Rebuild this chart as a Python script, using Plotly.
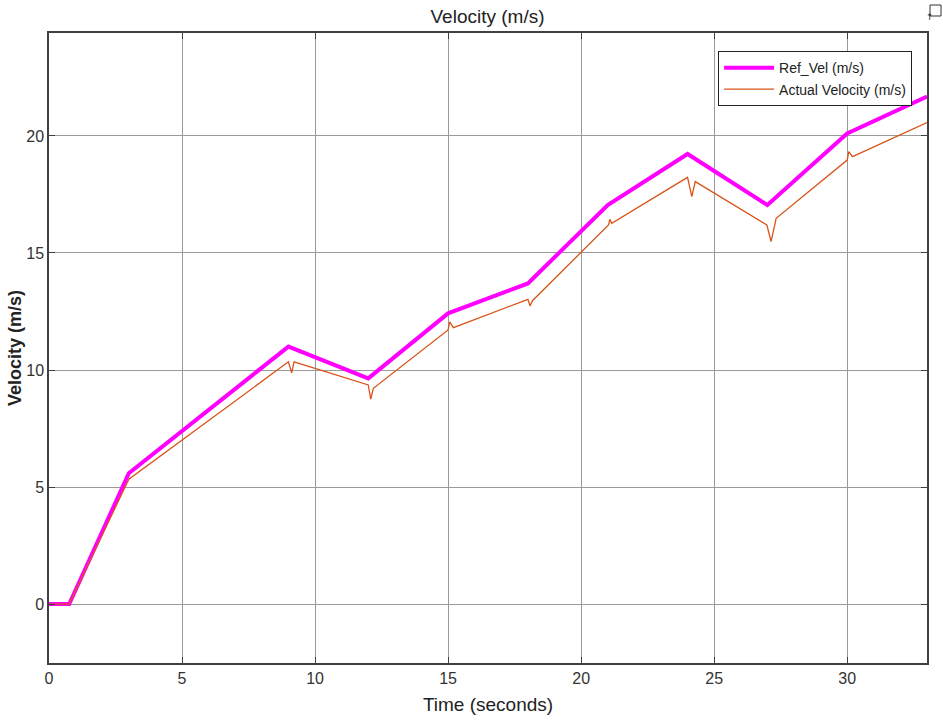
import plotly.graph_objects as go

# Reference velocity profile (piecewise linear set-points)
ref_time = [0, 0.76, 3.0, 9.0, 12.0, 15.0, 18.0, 21.0, 24.0, 27.0, 30.0, 33.0]
ref_vel = [0, 0, 5.59, 11.0, 9.64, 12.42, 13.70, 17.05, 19.23, 17.05, 20.11, 21.68]

# Measured vehicle velocity, with the transients at each set-point change
act_time = [0, 0.76, 3.0, 9.0, 9.12, 9.21, 12.0, 12.09, 12.19, 15.0, 15.06, 15.2,
            18.0, 18.08, 18.17, 21.03, 21.08, 21.15, 24.0, 24.16, 24.29,
            26.98, 27.14, 27.33, 30.0, 30.06, 30.2, 33.0]
act_vel = [0, 0, 5.33, 10.35, 9.88, 10.35, 9.36, 8.75, 9.22, 11.71, 12.06, 11.81,
           13.02, 12.74, 12.96, 16.2, 16.44, 16.27, 18.23, 17.41, 18.05,
           16.2, 15.49, 16.48, 18.97, 19.33, 19.12, 20.57]

x_ticks = [0, 5, 10, 15, 20, 25, 30]
y_ticks = [0, 5, 10, 15, 20]

FONT = "Liberation Sans, Arial, sans-serif"

fig = go.Figure()
fig.add_trace(go.Scatter(x=ref_time, y=ref_vel, mode="lines", name="Ref_Vel (m/s)",
                         line=dict(color="#FF00FF", width=4)))
fig.add_trace(go.Scatter(x=act_time, y=act_vel, mode="lines", name="Actual Velocity (m/s)",
                         line=dict(color="#D95319", width=1.3)))

axis_common = dict(showgrid=True, gridcolor="#9a9a9a", gridwidth=1,
                   showline=True, linecolor="#404040", linewidth=1.5, mirror="ticks",
                   ticks="inside", ticklen=6, tickcolor="#404040",
                   tickfont=dict(family=FONT, size=16, color="#333333"),
                   zeroline=False, automargin=False)

fig.update_layout(
    width=943, height=721,
    margin=dict(l=49, r=16, t=33, b=58),
    paper_bgcolor="white", plot_bgcolor="white",
    title=dict(text="Velocity (m/s)", x=0.517, xanchor="center", y=0.978, yanchor="middle",
               font=dict(family=FONT, size=19, color="#222222")),
    xaxis=dict(range=[0, 33], tickvals=x_ticks,
               title=dict(text="Time (seconds)", font=dict(family=FONT, size=19, color="#222222"),
                          standoff=12),
               **axis_common),
    yaxis=dict(range=[-2.52, 24.4], tickvals=y_ticks,
               title=dict(text="<b>Velocity (m/s)</b>", font=dict(family=FONT, size=18, color="#222222"),
                          standoff=0),
               **axis_common),
    legend=dict(x=0.983, y=0.971, xanchor="right", yanchor="top",
                bgcolor="white", bordercolor="#222222", borderwidth=1,
                font=dict(family=FONT, size=14, color="#222222"),
                tracegroupgap=0, itemwidth=50),
    showlegend=True,
)

# small toolbar-style icon in the top-right corner
fig.add_shape(type="rect", xref="paper", yref="paper",
              x0=(930 - 49) / 878, x1=(941 - 49) / 878,
              y0=(663 - 16) / 630, y1=(663 - 5) / 630,
              line=dict(color="#333333", width=1), fillcolor="white")
fig.add_annotation(xref="paper", yref="paper", x=(935.5 - 49) / 878, y=(663 - 10.5) / 630,
                   text="↑", showarrow=False, font=dict(family="DejaVu Sans", size=9, color="#222222"))

fig.write_html("out.html")
